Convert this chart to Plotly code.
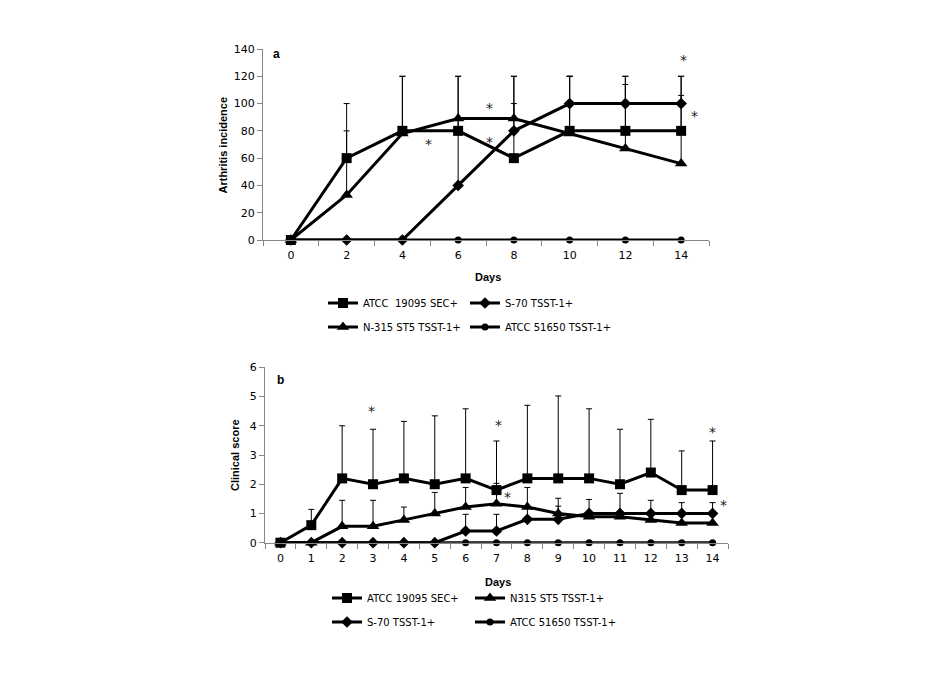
import plotly.graph_objects as go

# ---------------- data: panel a ----------------
days_a = [0, 2, 4, 6, 8, 10, 12, 14]
a_sec = [0, 60, 80, 80, 60, 80, 80, 80]          # ATCC 19095 SEC+
a_sec_err = [0, 40, 40, 40, 40, 40, 40, 40]
a_n315 = [0, 33, 78, 89, 89, 78, 67, 56]         # N-315 ST5 TSST-1+
a_n315_err = [0, 47, 42, 31, 31, 42, 47, 50]
a_s70 = [0, 0, 0, 40, 80, 100, 100, 100]         # S-70 TSST-1+
a_s70_err = [0, 0, 0, 49, 40, 20, 20, 20]
a_51650 = [0, 0, 0, 0, 0, 0, 0, 0]               # ATCC 51650 TSST-1+
a_ticks = ["0", "2", "4", "6", "8", "10", "12", "14"]

# ---------------- data: panel b ----------------
days_b = list(range(15))
b_sec = [0, 0.6, 2.2, 2.0, 2.2, 2.0, 2.2, 1.8, 2.2, 2.2, 2.2, 2.0, 2.4, 1.8, 1.8]
b_sec_err = [0, 0.54, 1.8, 1.88, 1.95, 2.34, 2.38, 1.68, 2.5, 2.82, 2.38, 1.88, 1.82, 1.34, 1.68]
b_n315 = [0, 0, 0.56, 0.56, 0.78, 1.0, 1.22, 1.33, 1.22, 1.0, 0.89, 0.89, 0.78, 0.67, 0.67]
b_n315_err = [0, 0, 0.89, 0.89, 0.44, 0.72, 0.67, 0.7, 0.67, 0.52, 0.59, 0.8, 0.67, 0.7, 0.7]
b_s70 = [0, 0, 0, 0, 0, 0, 0.4, 0.4, 0.8, 0.8, 1.0, 1.0, 1.0, 1.0, 1.0]
b_s70_err = [0, 0, 0, 0, 0, 0, 0.57, 0.57, 0.4, 0.45, 0, 0, 0, 0, 0]
b_51650 = [0] * 15
b_ticks = [str(d) for d in days_b]

# asterisks (x, y) in data units
stars_a = [(4.92, 73), (7.14, 100), (7.14, 75), (14.1, 135), (14.47, 94)]
stars_b = [(2.95, 4.65), (7.07, 4.16), (7.35, 1.71), (14.0, 3.92), (14.34, 1.41)]

W, H = 942, 674
AX = "#868686"
TICKFONT = dict(family="DejaVu Sans", size=11, color="black")
LEGFONT = dict(family="DejaVu Sans", size=10, color="black")
TITLEFONT = dict(family="Liberation Sans", size=11, color="black")

fig = go.Figure()


def add_series(x, y, err, symbol, msize, name, xa, ya, legend):
    n = len(y)
    kw = {}
    if err is not None:
        kw["error_y"] = dict(type="data", symmetric=False, array=err,
                             arrayminus=[0] * n, color="black", thickness=1, width=3)
    fig.add_trace(go.Scatter(
        x=x, y=y, name=name, mode="lines+markers",
        line=dict(color="black", width=3),
        marker=dict(symbol=symbol, size=msize, color="black"),
        xaxis=xa, yaxis=ya, legend=legend, cliponaxis=False, **kw,
    ))


# panel a (circle line first so others are above)
add_series(days_a, a_51650, None, "circle", 7, "ATCC 51650 TSST-1+", "x", "y", "legend4")
add_series(days_a, a_s70, a_s70_err, "diamond", 9, "S-70 TSST-1+", "x", "y", "legend2")
add_series(days_a, a_n315, a_n315_err, "triangle-up", 11, "N-315 ST5 TSST-1+", "x", "y", "legend3")
add_series(days_a, a_sec, a_sec_err, "square", 10, "ATCC&nbsp;&nbsp;19095 SEC+", "x", "y", "legend")

# panel b
add_series(days_b, b_51650, None, "circle", 7, "ATCC 51650 TSST-1+", "x2", "y2", "legend8")
add_series(days_b, b_s70, b_s70_err, "diamond", 9, "S-70 TSST-1+", "x2", "y2", "legend7")
add_series(days_b, b_n315, b_n315_err, "triangle-up", 11, "N315 ST5 TSST-1+", "x2", "y2", "legend6")
add_series(days_b, b_sec, b_sec_err, "square", 10, "ATCC 19095 SEC+", "x2", "y2", "legend5")


def px_x(p):
    return p / W


def px_y(p):
    return (H - p) / H


common_x = dict(showgrid=False, zeroline=False, showline=True, linecolor=AX, linewidth=1,
                ticks="outside", ticklen=5, tickcolor="rgba(0,0,0,0)", tickfont=TICKFONT)
common_y = dict(showgrid=False, zeroline=False, showline=True, linecolor=AX, linewidth=1,
                ticks="outside", ticklen=5, tickcolor=AX, tickfont=TICKFONT)

fig.update_layout(
    width=W, height=H, margin=dict(l=0, r=0, t=0, b=0, autoexpand=False),
    paper_bgcolor="white", plot_bgcolor="white", showlegend=True,
    xaxis=dict(common_x, domain=[px_x(263), px_x(709)], range=[-1, 15], anchor="y",
               tickmode="array", tickvals=days_a, ticktext=a_ticks,
               minor=dict(tickmode="array", tickvals=[-1, 1, 3, 5, 7, 9, 11, 13, 15],
                          ticks="outside", ticklen=5, tickcolor=AX)),
    yaxis=dict(common_y, domain=[px_y(240), px_y(49)], range=[0, 140], dtick=20, anchor="x"),
    xaxis2=dict(common_x, domain=[px_x(265), px_x(728)], range=[-0.5, 14.5], anchor="y2",
                tickmode="array", tickvals=days_b, ticktext=b_ticks,
                minor=dict(tickmode="array", tickvals=[d - 0.5 for d in days_b] + [14.5],
                           ticks="outside", ticklen=5, tickcolor=AX)),
    yaxis2=dict(common_y, domain=[px_y(542.7), px_y(367.3)], range=[0, 6], dtick=1, anchor="x2"),
)

# legends: one per item, positioned individually
leg_pos = {
    "legend": (328, 303), "legend2": (470, 303),
    "legend3": (328, 327), "legend4": (470, 327),
    "legend5": (332, 598), "legend6": (475, 598),
    "legend7": (332, 622), "legend8": (475, 622),
}
for key, (lx, ly) in leg_pos.items():
    fig.update_layout({key: dict(x=px_x(lx - 5), y=px_y(ly), xanchor="left", yanchor="middle",
                                 orientation="h", font=LEGFONT, bgcolor="rgba(0,0,0,0)",
                                 itemwidth=30, borderwidth=0)})

ann = []
# axis titles
ann.append(dict(text="<b>Arthritis incidence</b>", x=px_x(222), y=px_y(145.5), xref="paper", yref="paper",
                textangle=-90, showarrow=False, font=TITLEFONT, xanchor="center", yanchor="middle"))
ann.append(dict(text="<b>Clinical score</b>", x=px_x(235), y=px_y(455), xref="paper", yref="paper",
                textangle=-90, showarrow=False, font=TITLEFONT, xanchor="center", yanchor="middle"))
ann.append(dict(text="<b>Days</b>", x=px_x(488), y=px_y(277), xref="paper", yref="paper",
                showarrow=False, font=TITLEFONT, xanchor="center", yanchor="middle"))
ann.append(dict(text="<b>Days</b>", x=px_x(498), y=px_y(582), xref="paper", yref="paper",
                showarrow=False, font=TITLEFONT, xanchor="center", yanchor="middle"))
# panel letters
ann.append(dict(text="<b>a</b>", x=-0.51, y=136, xref="x", yref="y", showarrow=False,
                font=dict(family="Liberation Sans", size=12, color="black")))
ann.append(dict(text="<b>b</b>", x=0.0, y=5.57, xref="x2", yref="y2", showarrow=False,
                font=dict(family="Liberation Sans", size=12, color="black")))
# asterisks
for sx, sy in stars_a:
    ann.append(dict(text="*", x=sx, y=sy, xref="x", yref="y", showarrow=False, yshift=-4,
                    font=dict(family="DejaVu Sans", size=14, color="#222")))
for sx, sy in stars_b:
    ann.append(dict(text="*", x=sx, y=sy, xref="x2", yref="y2", showarrow=False, yshift=-4,
                    font=dict(family="DejaVu Sans", size=14, color="#222")))
fig.update_layout(annotations=ann)

fig.write_html("out.html", config={"displayModeBar": False},
               post_script="document.body.style.margin='0px';")
